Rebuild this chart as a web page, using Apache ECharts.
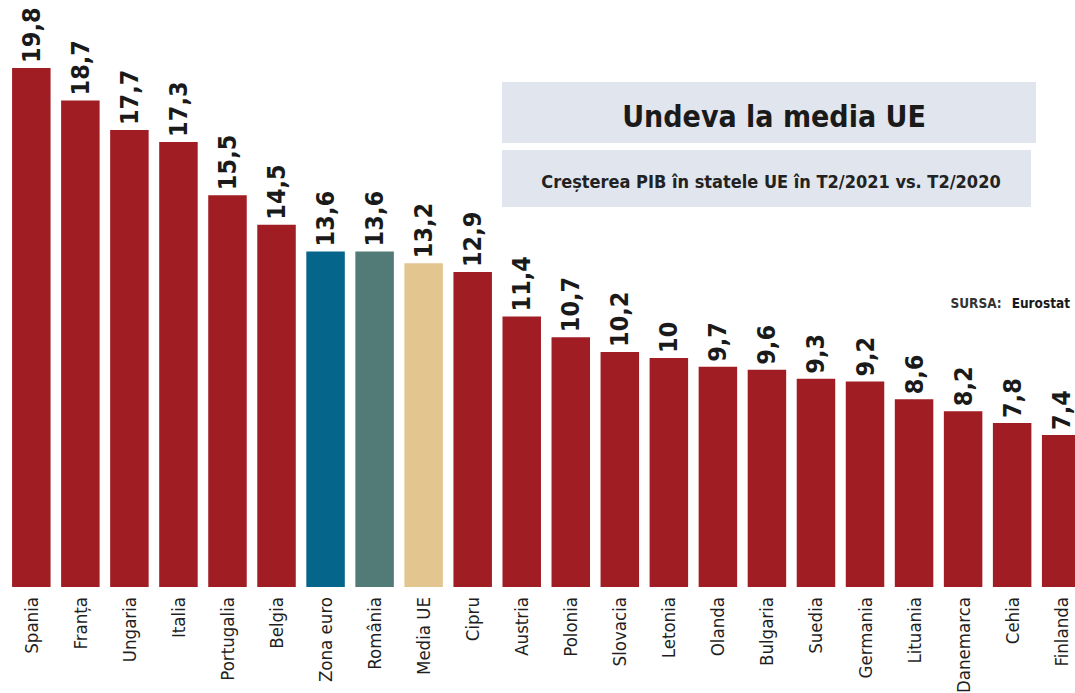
<!DOCTYPE html>
<html>
<head>
<meta charset="utf-8">
<script src="https://cdn.jsdelivr.net/npm/echarts@6/dist/echarts.min.js"></script>
<style>
html,body{margin:0;padding:0;background:#fff;}
#c{width:1075px;height:693px;}
</style>
</head>
<body>
<div id="c"></div>
<script>
var categories = ['Spania','Franța','Ungaria','Italia','Portugalia','Belgia','Zona euro','România','Media UE','Cipru','Austria','Polonia','Slovacia','Letonia','Olanda','Bulgaria','Suedia','Germania','Lituania','Danemarca','Cehia','Finlanda'];
var values = [19.8,18.7,17.7,17.3,15.5,14.5,13.6,13.6,13.2,12.9,11.4,10.7,10.2,10,9.7,9.6,9.3,9.2,8.6,8.2,7.8,7.4];
var titleText = 'Undeva la media UE';
var subtitleText = 'Creșterea PIB în statele UE în T2/2021 vs. T2/2020';
var sourceLabel = 'SURSA:';
var sourceName = 'Eurostat';

var baseColor = '#a01d23';
var specialColors = {'Zona euro':'#05658a','România':'#527a77','Media UE':'#e3c58f'};
var condensed = "'Liberation Sans Narrow','DejaVu Sans Condensed',sans-serif";

var chart = echarts.init(document.getElementById('c'), null, {renderer:'svg'});
chart.setOption({
  backgroundColor:'#ffffff',
  animation:false,
  graphic:[
    {type:'rect', shape:{x:502,y:82,width:534,height:61}, style:{fill:'#e1e5ed'}, z:0},
    {type:'rect', shape:{x:502,y:150,width:529,height:57}, style:{fill:'#e1e5ed'}, z:0}
  ],
  title:[
    {text:titleText, left:769, top:96, textAlign:'center',
     textStyle:{fontFamily:condensed, fontSize:30, fontWeight:'bold', color:'#1a1a1a'}},
    {text:subtitleText, left:766, top:167, textAlign:'center',
     textStyle:{fontFamily:condensed, fontSize:18, fontWeight:'bold', color:'#222'}},
    {text:'{a|'+sourceLabel+'}  {b|'+sourceName+'}', right:0, top:289,
     textStyle:{rich:{
       a:{fontFamily:condensed, fontSize:13.5, color:'#333'},
       b:{fontFamily:condensed, fontSize:13.5, fontWeight:'bold', color:'#1a1a1a'}
     }}}
  ],
  grid:{left:6.8, right:-10.7, top:62, bottom:106, containLabel:false, outerBoundsMode:'none'},
  xAxis:{
    type:'category', data:categories,
    axisLine:{show:false}, axisTick:{show:false},
    axisLabel:{rotate:90, margin:10, interval:0, fontFamily:condensed, fontSize:18.5, color:'#1f1f1f'}
  },
  yAxis:{type:'value', min:2.26, max:20, show:false, splitLine:{show:false}},
  series:[{
    type:'bar', barWidth:38.5,
    data:values.map(function(v,i){
      var c = specialColors[categories[i]] || baseColor;
      return {value:v, itemStyle:{color:c}};
    }),
    label:{show:true, position:'top', rotate:90, align:'left', verticalAlign:'middle', distance:5,
      fontFamily:condensed, fontSize:25, fontWeight:'bold', color:'#1a1a1a',
      formatter:function(p){return String(p.value).replace('.',',');}}
  }]
});
</script>
</body>
</html>
